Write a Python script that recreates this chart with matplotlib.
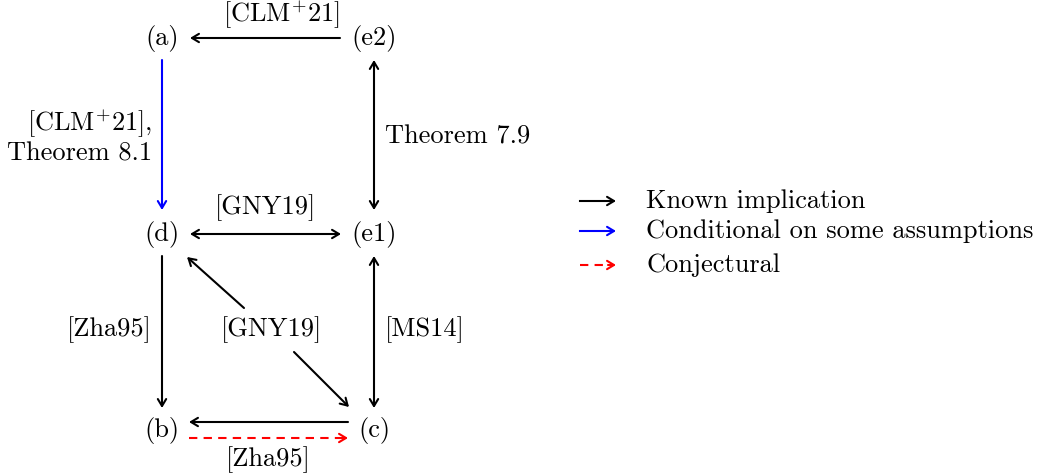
import matplotlib
matplotlib.use("Agg")
import matplotlib.pyplot as plt

plt.rcParams['font.family'] = ['cmr10', 'DejaVu Serif']
plt.rcParams['mathtext.fontset'] = 'cm'

# nodes of the diagram (pixel positions, y downward)
node_names = ['(a)', '(e2)', '(d)', '(e1)', '(b)', '(c)']
node_x = [162, 374, 162, 374, 162, 374]
node_y = [38, 38, 234, 234, 430, 430]

# edges: start, end, style, colour
edge_start = [(340, 38), (162, 60), (374, 60), (190, 234), (162, 256), (374, 256), (244, 308), (294, 352), (348, 422)]
edge_end = [(190, 38), (162, 210), (374, 210), (341, 234), (162, 408), (374, 408), (187, 257), (349, 407), (189, 422)]
edge_style = ['->', '->', '<->', '<->', '->', '<->', '->', '->', '->']
edge_color = ['black', 'blue', 'black', 'black', 'black', 'black', 'black', 'black', 'black']

# conjectural edge (dashed)
conj_start = (189, 438)
conj_end = (348, 438)

# edge labels
label_text = [r'[CLM$^{+}$21]', '[CLM$^{+}$21],\nTheorem 8.1', 'Theorem 7.9', '[GNY19]',
              '[Zha95]', '[GNY19]', '[MS14]', '[Zha95]']
label_x = [281, 152, 385, 266, 152, 272, 385, 268]
label_y = [15, 137, 137, 208, 330, 330, 330, 460]
label_ha = ['center', 'right', 'left', 'center', 'right', 'center', 'left', 'center']

# legend
legend_text = ['Known implication', 'Conditional on some assumptions', 'Conjectural']
legend_color = ['black', 'blue', 'red']
legend_ls = ['-', '-', '--']
legend_y = [201, 231, 265]

fig = plt.figure(figsize=(10.39, 4.76), dpi=100)
ax = fig.add_axes([0, 0, 1, 1])
ax.set_xlim(0, 1039)
ax.set_ylim(476, 0)
ax.axis('off')

fs = 19
head = '->,head_length=0.5,head_width=0.3'

for name, x, y in zip(node_names, node_x, node_y):
    ax.text(x, y, name, fontsize=fs, ha='center', va='center')

for s, e, st, c in zip(edge_start, edge_end, edge_style, edge_color):
    ax.annotate('', xy=e, xytext=s,
                arrowprops=dict(arrowstyle=st + ',head_length=0.5,head_width=0.3',
                                color=c, lw=1.5, shrinkA=0, shrinkB=0))

# dashed red arrow: line + solid head
ax.plot([conj_start[0], conj_end[0] - 4], [conj_start[1], conj_end[1]], color='red', lw=1.5,
        ls=(0, (4, 3)))
ax.annotate('', xy=conj_end, xytext=(conj_end[0] - 6, conj_end[1]),
            arrowprops=dict(arrowstyle=head, color='red', lw=1.5, shrinkA=0, shrinkB=0))

for t, x, y, ha in zip(label_text, label_x, label_y, label_ha):
    ax.text(x, y, t, fontsize=fs, ha=ha, va='center', multialignment='right',
            linespacing=1.1)

for t, c, ls, y in zip(legend_text, legend_color, legend_ls, legend_y):
    ax.plot([580, 611], [y, y], color=c, lw=1.5, ls=(0, (4, 3)) if ls == '--' else '-')
    ax.annotate('', xy=(616, y), xytext=(608, y),
                arrowprops=dict(arrowstyle=head, color=c, lw=1.5, shrinkA=0, shrinkB=0))
    ax.text(646, y, t, fontsize=fs, ha='left', va='center')

fig.savefig('out.png', dpi=100)
